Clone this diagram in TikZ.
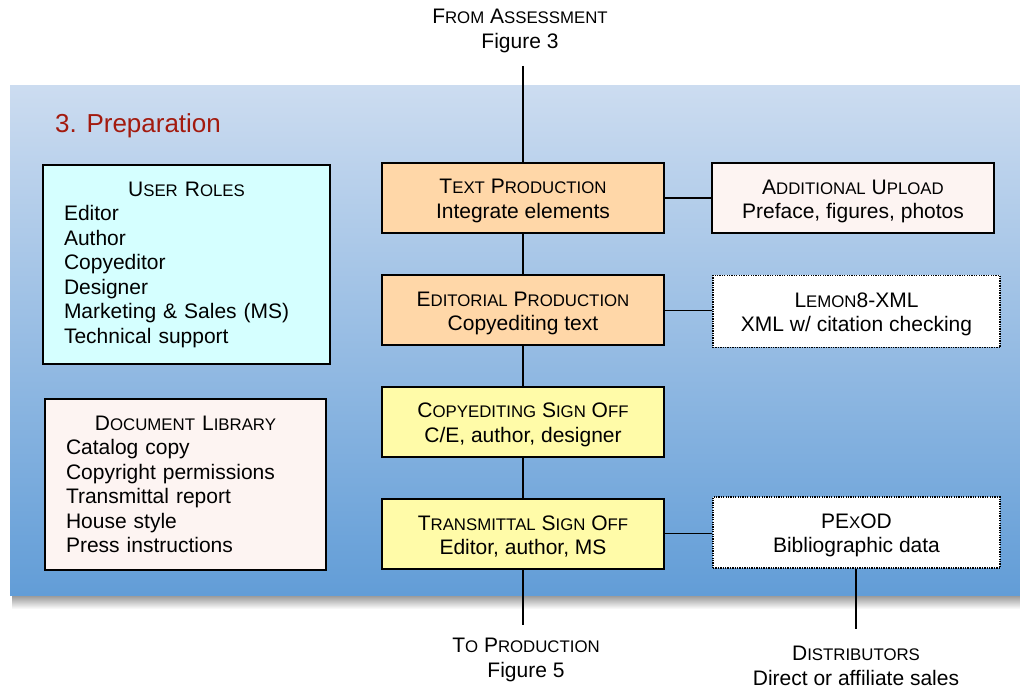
\documentclass[tikz,border=0pt]{standalone}
\usepackage{fontspec}
\setmainfont{Liberation Sans}
\definecolor{panelTop}{HTML}{CCDCF0}
\definecolor{panelBot}{HTML}{629DD7}
\definecolor{cyanfill}{HTML}{D5FFFF}
\definecolor{pinkfill}{HTML}{FDF4F2}
\definecolor{peachfill}{HTML}{FFD7A8}
\definecolor{yellowfill}{HTML}{FFFBA8}
\definecolor{titlered}{HTML}{A31A0E}
\newcommand{\mainfs}{\fontsize{21}{24.5}\selectfont}
\newcommand{\smc}[1]{{\fontsize{16.8}{16.8}\selectfont #1}}
\newcommand{\lift}{\rule{0pt}{20.5pt}}
\begin{document}
\begin{tikzpicture}[x=1pt,y=-1pt,
  procbox/.style={draw=black, line width=2pt, minimum width=282pt, minimum height=70pt,
    align=center, inner sep=0pt, font=\mainfs},
  sidebox/.style={procbox, minimum width=287pt},
  dotbox/.style={draw=black, line width=1.3pt, dash pattern=on 1.3pt off 1.1pt, fill=white,
    minimum width=287pt, minimum height=72pt, align=center, inner sep=0pt, font=\mainfs},
  listbox/.style={draw=black, line width=2pt, inner xsep=21pt, inner ysep=0pt, font=\mainfs},
  conn/.style={draw=black, line width=1.7pt},
  lbl/.style={align=center, font=\mainfs, inner sep=0pt}]
\useasboundingbox (0,0) rectangle (1020,692);
% shadow and panel
\shade[top color=black!42, bottom color=white] (12,595) rectangle (1020,609);
\shade[top color=panelTop, bottom color=panelBot] (10,86) rectangle (1020,595);
% title
\node[anchor=base west, text=titlered, font=\fontsize{26}{26}\selectfont, inner sep=0pt] (title) at (55,133) {3. Preparation};
% list boxes
\node[listbox, fill=cyanfill, minimum width=287pt, minimum height=199pt, text width=245pt] (roles) at (186.5,264.5)
 {\centering U\smc{SER} R\smc{OLES}\par\raggedright Editor\\Author\\Copyeditor\\Designer\\Marketing \& Sales (MS)\\Technical support\par};
\node[listbox, fill=pinkfill, minimum width=281pt, minimum height=171pt, text width=239pt] (lib) at (185.5,484.5)
 {\centering D\smc{OCUMENT} L\smc{IBRARY}\par\raggedright Catalog copy\\Copyright permissions\\Transmittal report\\House style\\Press instructions\par};
% process boxes
\node[procbox, fill=peachfill] (tp) at (523,198) {\lift T\smc{EXT} P\smc{RODUCTION}\\Integrate elements};
\node[procbox, fill=peachfill] (ep) at (523,310.5) {\lift E\smc{DITORIAL} P\smc{RODUCTION}\\Copyediting text};
\node[procbox, fill=yellowfill] (cs) at (523,422) {\lift C\smc{OPYEDITING} S\smc{IGN} O\smc{FF}\\C/E, author, designer};
\node[procbox, fill=yellowfill] (ts) at (523,533.5) {\lift T\smc{RANSMITTAL} S\smc{IGN} O\smc{FF}\\Editor, author, MS};
% side boxes
\node[sidebox, minimum width=282pt, fill=pinkfill] (au) at (853,198.5) {\lift A\smc{DDITIONAL} U\smc{PLOAD}\\Preface, figures, photos};
\node[dotbox] (lx) at (856.5,311.5) {\lift L\smc{EMON}8-XML\\XML w/ citation checking};
\node[dotbox, minimum height=71pt] (px) at (856.5,532.5) {\lift PE\smc{X}OD\\Bibliographic data};
% outside labels
\node[lbl] (from) at (520,31) {F\smc{ROM} A\smc{SSESSMENT}\\Figure 3};
\node[lbl] (to) at (526,660) {T\smc{O} P\smc{RODUCTION}\\Figure 5};
\node[lbl] (dist) at (856,666) {D\smc{ISTRIBUTORS}\\Direct or affiliate sales};
\coordinate (fromEnd) at (523,66);
\coordinate (toEnd) at (523,625);
\coordinate (distEnd) at (856,629);
% connectors
\draw[conn] (fromEnd) -- (tp.north);
\draw[conn] (tp.south) -- (ep.north);
\draw[conn] (ep.south) -- (cs.north);
\draw[conn] (cs.south) -- (ts.north);
\draw[conn] (ts.south) -- (toEnd);
\draw[conn] (tp.east) -- (tp.east -| au.west);
\draw[conn] (ep.east) -- (ep.east -| lx.west);
\draw[conn] (ts.east) -- (ts.east -| px.west);
\draw[conn] (px.south -| distEnd) -- (distEnd);
\end{tikzpicture}
\end{document}
